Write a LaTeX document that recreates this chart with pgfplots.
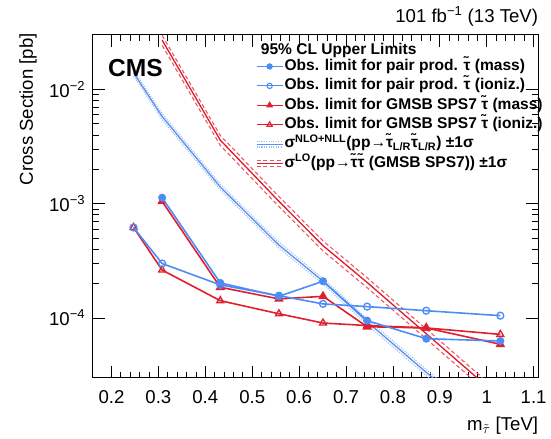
\documentclass[border=0pt]{standalone}
\usepackage{pgfplots}
\pgfplotsset{compat=1.18}
\usetikzlibrary{calc}
\usepackage{fontspec}
\setmainfont{Liberation Sans}

\definecolor{obsblue}{RGB}{77,140,245}
\definecolor{obsred}{RGB}{225,30,45}
\definecolor{thblue}{RGB}{95,145,240}
\definecolor{bandblue}{RGB}{150,190,250}
\definecolor{bandred}{RGB}{235,85,95}

% theory cross sections with +-1 sigma
\pgfplotstableread{
m      nom      up       dn
0.247  1.40e-2  1.48e-2  1.32e-2
0.308  5.8e-3   6.15e-3  5.45e-3
0.432  1.40e-3  1.48e-3  1.32e-3
0.557  4.35e-4  4.6e-4   4.1e-4
0.651  2.1e-4   2.22e-4  1.98e-4
0.745  9.3e-5   9.85e-5  8.75e-5
0.871  3.35e-5  3.55e-5  3.15e-5
1.029  9.8e-6   1.04e-5  9.2e-6
}\thpair
\pgfplotstableread{
m      nom      up       dn
0.308  2.7e-2   2.97e-2  2.43e-2
0.432  3.6e-3   3.96e-3  3.24e-3
0.557  1.05e-3  1.155e-3 9.45e-4
0.651  4.3e-4   4.73e-4  3.87e-4
0.745  2.05e-4  2.255e-4 1.845e-4
0.871  7.3e-5   8.03e-5  6.57e-5
1.029  2.0e-5   2.2e-5   1.8e-5
}\thgmsb

\begin{document}
\begin{tikzpicture}
\begin{axis}[
  at={(0,0)}, anchor=south west,
  scale only axis, width=335.25pt, height=258pt,
  xmin=0.16, xmax=1.11,
  ymode=log, ymin=3e-5, ymax=3e-2,
  xtick={0.2,0.3,0.4,0.5,0.6,0.7,0.8,0.9,1.0,1.1},
  xticklabels={0.2,0.3,0.4,0.5,0.6,0.7,0.8,0.9,1,1.1},
  minor x tick num=4,
  ytick={1e-4,1e-3,1e-2},
  yticklabels={10\textsuperscript{−4},10\textsuperscript{−3},10\textsuperscript{−2}},
  tick align=inside, xtick pos=both, ytick pos=both,
  major tick length=9pt, minor tick length=4.5pt,
  axis line style={line width=0.8pt},
  every tick/.style={black, line width=0.6pt},
  xticklabel style={font=\fontsize{14}{16}\selectfont, yshift=-6pt},
  yticklabel style={font=\fontsize{14}{16}\selectfont, xshift=-2pt},
  clip mode=individual,
  legend style={at={(rel axis cs:0.366,0.937)}, anchor=north west,
    draw=none, fill=none, inner sep=0pt,
    font=\fontsize{11.7}{13}\selectfont\bfseries,
    nodes={text height=9.2pt, text depth=3.4pt, inner sep=1pt},
    row sep=0pt},
  legend cell align=left,
]

% theory bands
\addplot[bandblue, densely dotted, line width=0.8pt, forget plot] table[x=m,y=up] {\thpair};
\addplot[bandblue, densely dotted, line width=0.8pt, forget plot] table[x=m,y=dn] {\thpair};
\addplot[thblue, line width=1pt, forget plot] table[x=m,y=nom] {\thpair};
\addplot[bandred, densely dashed, line width=0.8pt, forget plot] table[x=m,y=up] {\thgmsb};
\addplot[bandred, densely dashed, line width=0.8pt, forget plot] table[x=m,y=dn] {\thgmsb};
\addplot[obsred, line width=1pt, forget plot] table[x=m,y=nom] {\thgmsb};

% observed limits
\addplot[obsred, line width=1.2pt, mark=triangle, mark size=3pt, mark options={line width=1pt}, forget plot] coordinates {
 (0.247,6.2e-4) (0.308,2.63e-4) (0.432,1.42e-4) (0.557,1.09e-4)
 (0.651,9.05e-5) (0.745,8.6e-5) (0.871,8.2e-5) (1.029,7.2e-5)};
\addplot[obsred, line width=1.2pt, mark=triangle*, mark size=3pt, forget plot] coordinates {
 (0.308,1.05e-3) (0.432,1.86e-4) (0.557,1.47e-4) (0.651,1.55e-4)
 (0.745,8.4e-5) (0.871,8.2e-5) (1.029,5.9e-5)};
\addplot[obsblue, line width=1.2pt, mark=o, mark size=2.6pt, mark options={line width=1pt}, forget plot] coordinates {
 (0.247,6.2e-4) (0.308,3.0e-4) (0.432,1.95e-4) (0.557,1.57e-4)
 (0.651,1.33e-4) (0.745,1.26e-4) (0.871,1.16e-4) (1.029,1.05e-4)};
\addplot[obsblue, line width=1.2pt, mark=*, mark size=2.4pt, forget plot] coordinates {
 (0.308,1.13e-3) (0.432,2.03e-4) (0.557,1.55e-4) (0.651,2.10e-4)
 (0.745,9.5e-5) (0.871,6.6e-5) (1.029,6.3e-5)};

% legend
\addlegendimage{obsblue, line width=0.8pt, mark=*, mark size=2pt,
  legend image code/.code={\draw[mark repeat=2,mark phase=2] plot coordinates {(0pt,0pt) (9.75pt,0pt) (19.5pt,0pt)};}}
\addlegendentry{Obs. limit for pair prod. \~{τ} (mass)}
\addlegendimage{obsblue, line width=0.8pt, mark=o, mark size=2pt,
  legend image code/.code={\draw[mark repeat=2,mark phase=2] plot coordinates {(0pt,0pt) (9.75pt,0pt) (19.5pt,0pt)};}}
\addlegendentry{Obs. limit for pair prod. \~{τ} (ioniz.)}
\addlegendimage{obsred, line width=0.8pt, mark=triangle*, mark size=2.3pt,
  legend image code/.code={\draw[mark repeat=2,mark phase=2] plot coordinates {(0pt,0pt) (9.75pt,0pt) (19.5pt,0pt)};}}
\addlegendentry{Obs. limit for GMSB SPS7 \~{τ} (mass)}
\addlegendimage{obsred, line width=0.8pt, mark=triangle, mark size=2.3pt,
  legend image code/.code={\draw[mark repeat=2,mark phase=2] plot coordinates {(0pt,0pt) (9.75pt,0pt) (19.5pt,0pt)};}}
\addlegendentry{Obs. limit for GMSB SPS7 \~{τ} (ioniz.)}
\addlegendimage{legend image code/.code={
  \draw[bandblue, densely dotted, line width=0.8pt] (0pt,2.2pt) -- (19.5pt,2.2pt);
  \draw[bandblue, densely dotted, line width=0.8pt] (0pt,-2.2pt) -- (19.5pt,-2.2pt);
  \draw[thblue, line width=0.9pt] (0pt,0pt) -- (19.5pt,0pt);}}
\addlegendentry{σ\textsuperscript{NLO+NLL}(pp→\~{τ}\textsubscript{L/R}\~{τ}\textsubscript{L/R}) ±1σ}
\addlegendimage{legend image code/.code={
  \draw[bandred, densely dashed, line width=0.8pt] (0pt,2.2pt) -- (19.5pt,2.2pt);
  \draw[bandred, densely dashed, line width=0.8pt] (0pt,-2.2pt) -- (19.5pt,-2.2pt);
  \draw[obsred, line width=0.9pt] (0pt,0pt) -- (19.5pt,0pt);}}
\addlegendentry{σ\textsuperscript{LO}(pp→\~{τ}\~{τ} (GMSB SPS7)) ±1σ}

% annotations
\node[anchor=west, font=\fontsize{11.7}{13}\selectfont\bfseries]
  at (rel axis cs:0.367,0.955) {95\% CL Upper Limits};
\node[anchor=north west, inner sep=0pt, font=\fontsize{18.5}{20}\selectfont\bfseries]
  at (rel axis cs:0.034,0.93) {CMS};
\node[anchor=base east, inner sep=0pt, font=\fontsize{14}{16}\selectfont]
  at ($(rel axis cs:1,1)+(0pt,9pt)$) {101 fb\textsuperscript{−1} (13 TeV)};
\node[anchor=base east, inner sep=0pt, font=\fontsize{14}{16}\selectfont]
  at ($(rel axis cs:1,0)+(0pt,-39.75pt)$) {m\textsubscript{$\tilde{\tau}$} [TeV]};
\node[anchor=base east, rotate=90, inner sep=0pt, font=\fontsize{14}{16}\selectfont]
  at ($(rel axis cs:0,1)+(-45pt,1.5pt)$) {Cross Section [pb]};
\end{axis}
\path[use as bounding box] (-69.75pt,-45.75pt) rectangle (343.5pt,284.25pt);
\end{tikzpicture}
\end{document}
